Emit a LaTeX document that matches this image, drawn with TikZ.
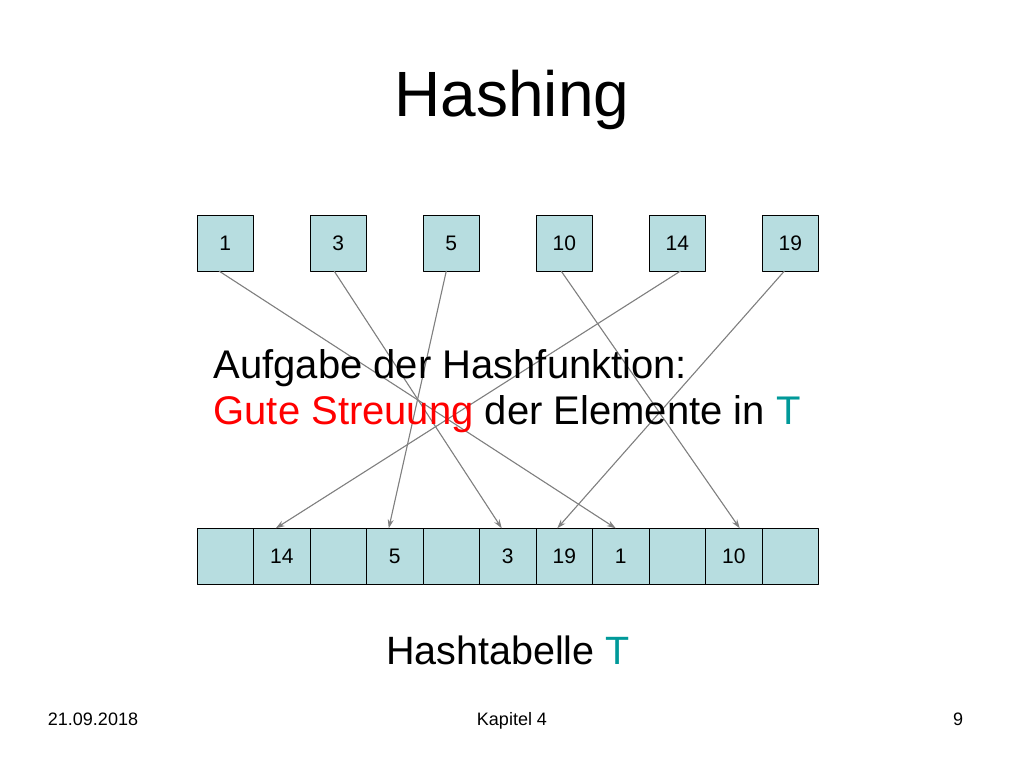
\documentclass[tikz,border=0pt]{standalone}
\usepackage{fontspec}
\setmainfont{Liberation Sans}
\usetikzlibrary{arrows.meta}
\definecolor{boxfill}{RGB}{183,221,224}
\definecolor{teal}{RGB}{0,153,153}
\begin{document}
\begin{tikzpicture}[x=1pt, y=-1pt, line join = round, line cap = round,
  cell/.style={draw, fill=boxfill, minimum width=56.5pt, minimum height=56pt, inner sep=0pt, font=\fontsize{21}{21}\selectfont},
  hasharrow/.style={-{Stealth[length=9pt, width=6pt]}, draw=gray, fill=gray, line width=1.1pt}]
\useasboundingbox (0,0) rectangle (1024,768);
\node (title) at (512,100) {\fontsize{64}{64}\selectfont Hashing};

\foreach \v [count=\i] in {1,3,5,10,14,19}
    \node[cell] (k\v) at ({197+56.5/2+(\i-1)*113},243) {\v};

\foreach \v [count=\i] in {{},14,{},5,{},3,19,1,{},10,{}}
    \node[cell] (t\i) at ({197+56.5/2+(\i-1)*56.5},556.5) {\v};

\draw[hasharrow] ([xshift=-6pt]k1.south) -- ([xshift=-5pt]t8.north);
\draw[hasharrow] ([xshift=-4pt]k3.south) -- ([xshift=-6pt]t6.north);
\draw[hasharrow] ([xshift=-5pt]k5.south) -- ([xshift=-6pt]t4.north);
\draw[hasharrow] ([xshift=-3pt]k10.south) -- ([xshift=6pt]t10.north);
\draw[hasharrow] ([xshift=3pt]k14.south) -- ([xshift=-6pt]t2.north);
\draw[hasharrow] ([xshift=-6pt]k19.south) -- ([xshift=-7pt]t7.north);

\node[anchor=west, align=left, font=\fontsize{40}{46}\selectfont] (task) at (210,391)
    {Aufgabe der Hashfunktion:\\\textcolor{red}{Gute Streuung} der Elemente in \textcolor{teal}{T}};
\node[font=\fontsize{39.5}{40}\selectfont] (caption) at (508,650) {Hashtabelle \textcolor{teal}{T}};

\node[anchor=base, font=\fontsize{18}{18}\selectfont] (date) at (93,725) {21.09.2018};
\node[anchor=base, font=\fontsize{18}{18}\selectfont] (chapter) at (512,725) {Kapitel 4};
\node[anchor=base, font=\fontsize{18}{18}\selectfont] (page) at (958,725) {9};
\end{tikzpicture}
\end{document}
